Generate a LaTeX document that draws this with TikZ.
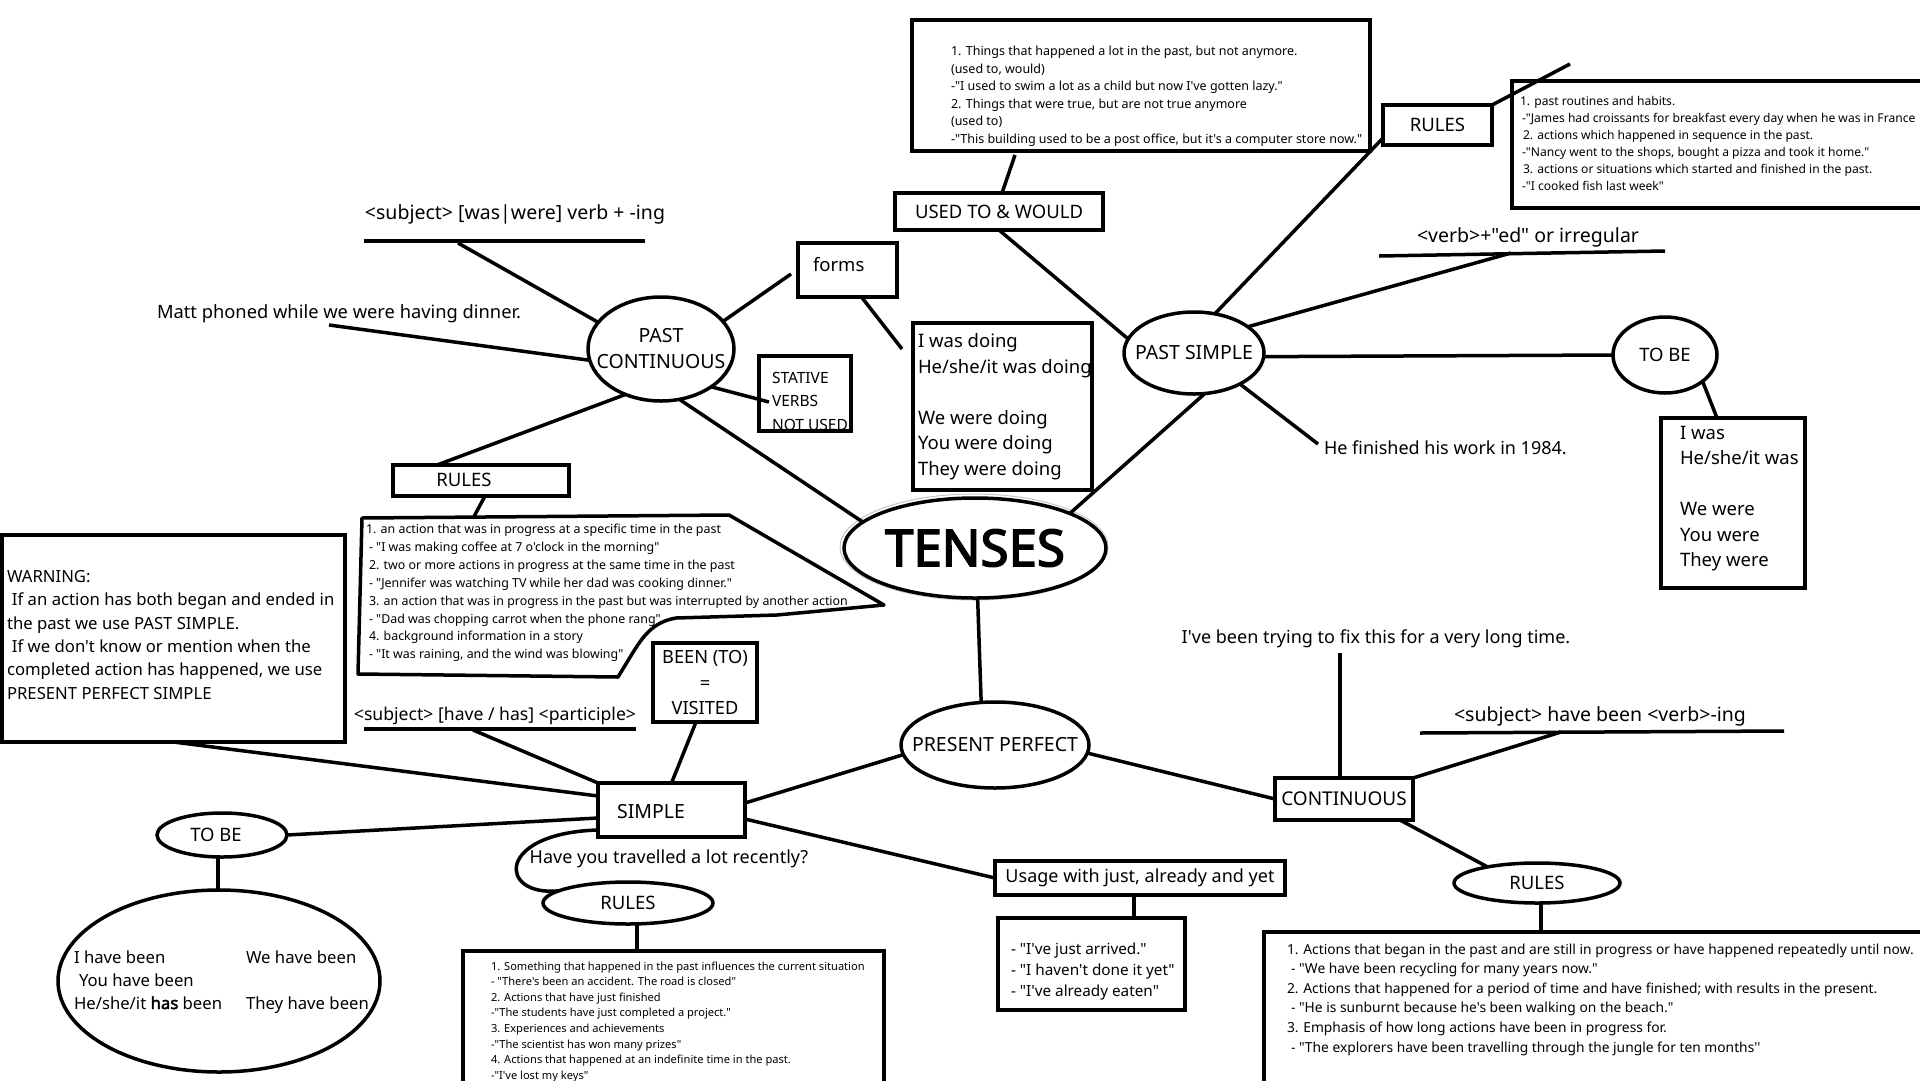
\documentclass[tikz,border=0pt]{standalone}
\usepackage{fontspec}
\newfontfamily\nf{Noto Sans}
\newfontfamily\nfb{Noto Sans}[FakeBold=3]
\newfontfamily\nfbs{Noto Sans}[FakeBold=2.5]
\usetikzlibrary{shapes.geometric,calc}
\begin{document}
\begin{tikzpicture}[x=1pt,y=-1pt,
  ln/.style={line width=3.5pt},
  bx/.style={draw,line width=3.5pt,rectangle,inner sep=0pt,outer sep=0pt,anchor=north west},
  el/.style={draw,line width=3.5pt,ellipse,inner sep=0pt,outer sep=0pt},
  tx/.style={inner sep=0pt,outer sep=0pt},
  fA/.style={font=\nf\fontsize{18.5}{25.5}\selectfont},
  fB/.style={font=\nf\fontsize{18}{23.3}\selectfont},
  fD/.style={font=\nf\fontsize{19.5}{26}\selectfont},
  fut/.style={font=\nf\fontsize{12.5}{17.6}\selectfont},
  frp/.style={font=\nf\fontsize{12.1}{17}\selectfont},
  fpc/.style={font=\nf\fontsize{12.4}{17.9}\selectfont},
  frs/.style={font=\nf\fontsize{11.1}{15.6}\selectfont},
  frc/.style={font=\nf\fontsize{13.8}{19.6}\selectfont},
  fex/.style={font=\nf\fontsize{15.3}{21}\selectfont},
  fsv/.style={font=\nf\fontsize{15.5}{23.5}\selectfont},
  fwn/.style={font=\nf\fontsize{16.7}{23.3}\selectfont},
]
\useasboundingbox (0,0) rectangle (1920,1080);
\fill[white] (0,0) rectangle (1920,1080);
\clip (0,0) rectangle (1920,1080);

% ---------- ellipses ----------
\node[el, draw=gray!45, line width=1pt, minimum width=268, minimum height=106] (tnring) at (974,547) {};
\node[el, minimum width=262, minimum height=100,
  label={[font=\nfb\fontsize{51}{60}\selectfont]center:TENSES}] (tn) at (975,548) {};
\node[el, minimum width=146, minimum height=104,
  label={[fD,align=center,inner sep=0pt]center:PAST\\CONTINUOUS}] (pc) at (661,349) {};
\node[el, minimum width=140, minimum height=82, label={[fD]center:PAST SIMPLE}] (ps) at (1194,353) {};
\node[el, minimum width=104, minimum height=76, label={[fA]center:TO BE}] (tbr) at (1665,355) {};
\node[el, minimum width=188, minimum height=86, label={[fD]center:PRESENT PERFECT}] (pp) at (995,745) {};
\node[el, minimum width=130, minimum height=44, label={[fA,xshift=-6pt]center:TO BE}] (tbl) at (222,835) {};
\node[el, minimum width=322, minimum height=182] (big) at (219,981) {};
\node[el, minimum width=170, minimum height=42, label={[fA]center:RULES}] (rs) at (628,903) {};
\node[el, minimum width=166, minimum height=40, label={[fA]center:RULES}] (rc) at (1537,883) {};

% ---------- boxes ----------
\node[bx, minimum width=458, minimum height=131] (ut) at (912,20) {};
\node[tx, fut, align=left, anchor=north west] (utt) at (951,46) {1. Things that happened a lot in the past, but not anymore.\\(used to, would)\\-"I used to swim a lot as a child but now I've gotten lazy."\\2. Things that were true, but are not true anymore\\(used to)\\-"This building used to be a post office, but it's a computer store now."};

\node[bx, minimum width=208, minimum height=37, fA] (uw) at (895,193) {USED TO \& WOULD};
\node[bx, minimum width=109, minimum height=40, fA] (rps) at (1383,105) {RULES};
\node[bx, minimum width=460, minimum height=127] (rpsb) at (1512,81) {};
\node[tx, frp, align=left, anchor=north west] (rpst) at (1520,96.5) {1. past routines and habits.\\\hspace*{2pt}-"James had croissants for breakfast every day when he was in France\\\hspace*{3pt}2. actions which happened in sequence in the past.\\\hspace*{2pt}-"Nancy went to the shops, bought a pizza and took it home."\\\hspace*{3pt}3. actions or situations which started and finished in the past.\\\hspace*{2pt}-"I cooked fish last week"};

\node[bx, minimum width=99, minimum height=54] (fm) at (798,243) {};
\node[tx, fA, anchor=base west] (fmt) at (813,271.5) {forms};

\node[bx, minimum width=179, minimum height=167] (wd) at (913,323) {};
\node[tx, fA, align=left, anchor=north west] (wdt) at (918,333.5) {I was doing\\He/she/it was doing\\\mbox{}\\We were doing\\You were doing\\They were doing};

\begin{scope}
\clip (759,356) rectangle (851,431);
\node[tx, fsv, align=left, anchor=north west] (svt) at (772,371.8) {STATIVE\\VERBS\\NOT USED};
\end{scope}
\node[bx, minimum width=92, minimum height=75] (sv) at (759,356) {};

\node[bx, minimum width=144, minimum height=170] (wb) at (1661,418) {};
\node[tx, fA, align=left, anchor=north west] (wbt) at (1680,426) {I was\\He/she/it was\\\mbox{}\\We were\\You were\\They were};

\node[bx, minimum width=176, minimum height=31] (rpc) at (393,465) {};
\node[tx, fA, anchor=base] (rpct) at (464,486.6) {RULES};

\draw[ln, line join=round] (362,518) -- (729,515) -- (884,605) -- (777,615) -- (676,618)
  .. controls (652,622) and (642,638) .. (632,654) -- (618,677) -- (358,674) -- cycle;
\coordinate (ptop) at (474,516.5);
\node[tx, fpc, align=left, anchor=north west] (pct) at (366,524.1) {1. an action that was in progress at a specific time in the past\\\hspace*{3pt}- "I was making coffee at 7 o'clock in the morning"\\\hspace*{3pt}2. two or more actions in progress at the same time in the past\\\hspace*{3pt}- "Jennifer was watching TV while her dad was cooking dinner."\\\hspace*{3pt}3. an action that was in progress in the past but was interrupted by another action\\\hspace*{3pt}- "Dad was chopping carrot when the phone rang"\\\hspace*{3pt}4. background information in a story\\\hspace*{3pt}- "It was raining, and the wind was blowing"};

\node[bx, minimum width=343, minimum height=207] (warn) at (2,535) {};
\node[tx, fwn, align=left, anchor=north west] (warnt) at (7,570.4) {WARNING:\\\hspace*{5pt}If an action has both began and ended in\\the past we use PAST SIMPLE.\\\hspace*{5pt}If we don't know or mention when the\\completed action has happened, we use\\PRESENT PERFECT SIMPLE};

\node[bx, minimum width=104, minimum height=79, align=center, font=\nf\fontsize{18.2}{25.5}\selectfont] (been) at (653,643) {BEEN (TO)\\=\\VISITED};

\node[bx, minimum width=147, minimum height=54] (sim) at (598,783) {};
\node[tx, fD, anchor=base] (simt) at (651,818) {SIMPLE};

\node[bx, minimum width=290, minimum height=34, fB] (use) at (995,861) {Usage with just, already and yet};
\node[bx, minimum width=187, minimum height=92] (ex) at (998,918) {};
\node[tx, fex, align=left, anchor=north west] (ext) at (1011,942.9) {- "I've just arrived."\\- "I haven't done it yet"\\- "I've already eaten"};

\node[bx, minimum width=138, minimum height=42, font=\nf\fontsize{19}{25}\selectfont] (cont) at (1275,778) {CONTINUOUS};

\node[bx, minimum width=421, minimum height=160] (rsb) at (463,951) {};
\node[tx, frs, align=left, anchor=north west] (rst) at (491,961.5) {1. Something that happened in the past influences the current situation\\- "There's been an accident. The road is closed"\\2. Actions that have just finished\\-"The students have just completed a project."\\3. Experiences and achievements\\-"The scientist has won many prizes"\\4. Actions that happened at an indefinite time in the past.\\-"I've lost my keys"};

\node[bx, minimum width=700, minimum height=200] (rcb) at (1264,932) {};
\node[tx, frc, align=left, anchor=north west] (rct) at (1287,943.5) {1. Actions that began in the past and are still in progress or have happened repeatedly until now.\\\hspace*{4pt}- "We have been recycling for many years now."\\2. Actions that happened for a period of time and have finished; with results in the present.\\\hspace*{4pt}- "He is sunburnt because he's been walking on the beach."\\3. Emphasis of how long actions have been in progress for.\\\hspace*{4pt}- "The explorers have been travelling through the jungle for ten months''};

% ---------- free texts ----------
\node[tx, fD, anchor=base] (subj) at (515,219) {<subject> [was|were] verb + -ing};
\node[tx, font=\nf\fontsize{18.3}{24}\selectfont, anchor=base west] (matt) at (157,318.5) {Matt phoned while we were having dinner.};
\node[tx, fD, anchor=base] (verb) at (1528,242) {<verb>+"ed" or irregular};
\node[tx, fB, anchor=base west] (fin) at (1324,454.5) {He finished his work in 1984.};
\node[tx, font=\nf\fontsize{17.6}{24}\selectfont, anchor=base] (hvs) at (495,720.3) {<subject> [have / has] <participle>};
\node[tx, fB, anchor=base] (trav) at (669,863.5) {Have you travelled a lot recently?};
\node[tx, fB, anchor=base] (try) at (1376,643.5) {I've been trying to fix this for a very long time.};
\node[tx, fD, anchor=base] (hbv) at (1600,721) {<subject> have been <verb>-ing};

\node[tx, fwn, anchor=base west] (hb1) at (74,963) {I have been};
\node[tx, fwn, anchor=base west] (hb2) at (246,963) {We have been};
\node[tx, fwn, anchor=base west] (hb3) at (79,986) {You have been};
\node[tx, fwn, anchor=base west] (hb4) at (74,1009) {He/she/it {\nfbs has} been};
\node[tx, fwn, anchor=base west] (hb5) at (246,1009) {They have been};

% ---------- underlines ----------
\draw[ln] (364,241) -- (645,241);
\draw[ln] (1379,256) -- (1665,251);
\draw[ln] (364,729) -- (636,729);
\draw[ln] (1420,733) -- (1784,731);

% ---------- free ends ----------
\coordinate (subjc) at (458,243);
\coordinate (mattc) at (329,325);
\coordinate (verbc) at (1511,253);
\coordinate (finc) at (1318,444);
\coordinate (hvsc) at (473,730);
\coordinate (tryc) at (1340,653);
\coordinate (hbvc) at (1561,732);
\coordinate (rpsc) at (1570,64);
\coordinate (svc) at (769,402);

% ---------- connectors ----------
\draw[ln] ([xshift=-126pt,yshift=-4pt]ut.south) -- ([xshift=3pt]uw.north);
\draw[ln] (uw.south) -- (ps.168);
\draw[ln] (ps.62) -- ([yshift=-13pt]rps.west);
\draw[ln] (rps.north east) -- (rpsc);
\draw[ln] (ps.26) -- (verbc);
\draw[ln] (ps.357) -- (tbr.west);
\draw[ln] (tbr.325) -- ([xshift=56pt]wb.north west);
\draw[ln] (ps.326) -- (finc);
\draw[ln] (tn.20) -- (ps.285);
\draw[ln] (tn.167) -- (pc.290);
\draw[ln] (tn.273) -- (pp.108);
\draw[ln] (pc.157) -- (subjc);
\draw[ln] (pc.189) -- (mattc);
\draw[ln] (pc.232) -- ([xshift=44pt]rpc.north west);
\draw[ln] (pc.24) -- ([xshift=-7pt,yshift=-4pt]fm.west);
\draw[ln] ([xshift=14pt]fm.south) -- ([xshift=-11pt,yshift=-26pt]wd.north west);
\draw[ln] (pc.323) -- (svc);
\draw[ln] ([xshift=4pt]rpc.south) -- (ptop);
\draw[ln] (pp.186) -- ([yshift=7pt]sim.east);
\draw[ln] ([yshift=-9pt]sim.east) -- (use.west);
\draw[ln] ([xshift=-6pt]use.south) -- ([xshift=42.5pt]ex.north);
\draw[ln] ([xshift=-9pt]been.south) -- (sim.north);
\draw[ln] (hvsc) -- (sim.north west);
\draw[ln] (warn.south) -- ([yshift=14pt]sim.west);
\draw[ln] (tbl.east) -- ([yshift=-8pt]sim.west);
\draw[ln] ([xshift=-4pt]tbl.south) -- ([xshift=-1pt]big.north);
\draw[ln] ([yshift=-20pt]sim.west) .. controls (495,833) and (498,897) .. (rs.170);
\draw[ln] ([xshift=9pt]rs.south) -- ([xshift=-36.5pt]rsb.north);
\draw[ln] (pp.355) -- (cont.west);
\draw[ln] ([xshift=-4pt]cont.north) -- (tryc);
\draw[ln] (cont.north east) -- (hbvc);
\draw[ln] ([xshift=-13pt]cont.south east) -- (rc.162);
\draw[ln] ([xshift=4pt]rc.south) -- ([xshift=-73pt]rcb.north);
\end{tikzpicture}
\end{document}
